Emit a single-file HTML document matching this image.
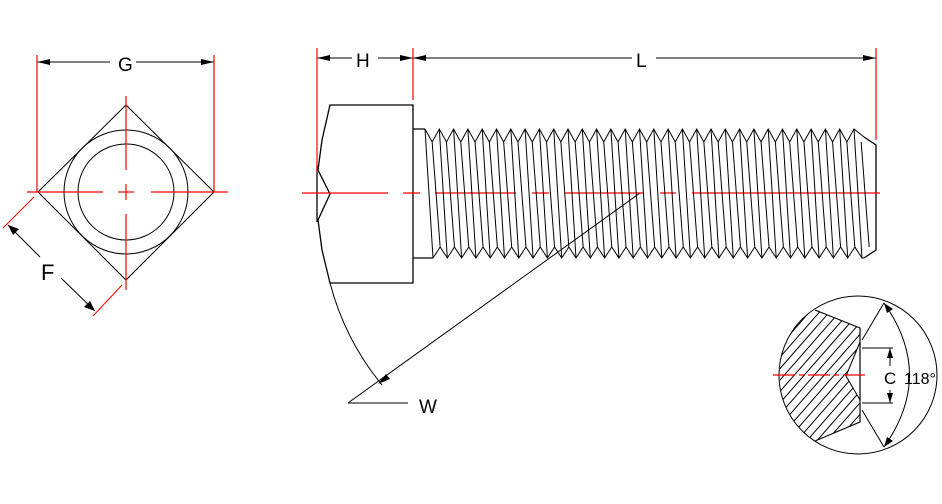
<!DOCTYPE html>
<html><head><meta charset="utf-8"><style>
html,body{margin:0;padding:0;background:#fff}
svg{display:block}
text{font-family:"Liberation Sans",sans-serif;fill:#000}
</style></head><body>
<svg id="s" width="942" height="504" viewBox="0 0 942 504" xmlns="http://www.w3.org/2000/svg">
<defs>
<clipPath id="hc"><path d="M815,310 L860,328 L860,342 L846,376 L860,400 L860,422 L815,441 L780,441 L780,310 Z"/></clipPath>
<clipPath id="cc"><circle cx="858" cy="375" r="79"/></clipPath>
</defs>
<g fill="none" stroke="#000" stroke-width="1">
<path d="M126,105 L214,192 L126,280 L38,192 Z"/>
<circle cx="126" cy="192" r="62"/>
<circle cx="126" cy="192" r="48"/>
<line x1="37" y1="62" x2="110" y2="62"/><line x1="136" y1="62" x2="214" y2="62"/>
<line x1="8" y1="225" x2="40" y2="257"/>
<line x1="61" y1="278" x2="95" y2="311"/>
<path d="M413,105 L330,105 L322,140 L318,170 L330,194 L318,220 L322,250 L330,283 L413,283 Z" stroke-width="1.3"/>
<line x1="317" y1="165" x2="317" y2="222" stroke-width="1.3"/>
<path d="M330,283 Q345,340 382,385" />
<path d="M413,129 L425,129 M413,258 L433,258" stroke-width="1.3"/>
<path d="M864,137 L876,145 L876,250 L864,258" stroke-width="1.3"/>
<line x1="640" y1="193" x2="348" y2="403"/>
<line x1="348" y1="403" x2="408" y2="403"/>
<line x1="317" y1="58" x2="352" y2="58"/><line x1="378" y1="58" x2="413" y2="58"/>
<line x1="413" y1="58" x2="632" y2="58"/><line x1="656" y1="58" x2="876" y2="58"/>
<circle cx="858" cy="375" r="79"/>
<path d="M815,310 L860,328 L860,422 L815,441" stroke-width="1.2"/>
<path d="M860,342 L846,376 L860,400" />
<line x1="862" y1="340" x2="884" y2="303"/>
<line x1="862" y1="410" x2="884" y2="447"/>
<path d="M884,303 Q935,375 884,447"/>
<path d="M862,348 L893,348 M862,403 L893,403 M890,348 L890,366 M890,390 L890,403"/>
<g clip-path="url(#cc)"><g id="hatch" clip-path="url(#hc)"></g></g>
</g>
<g fill="#000">
<polygon points="37,62 50,59 50,65"/><polygon points="214,62 201,59 201,65"/>
<polygon points="317,58 330,55 330,61"/><polygon points="413,58 400,55 400,61"/>
<polygon points="413,58 426,55 426,61"/><polygon points="876,58 863,55 863,61"/>
<polygon points="8,225 19,229 13,235"/><polygon points="95,311 84,307 90,301"/>
<polygon points="378,384 386,374 390,379"/>
<polygon points="890,348 887,358 893,358"/><polygon points="890,403 887,393 893,393"/>
<polygon points="884,303 887,313 893,309"/><polygon points="884,447 887,437 893,441"/>
</g>
<g stroke="#f00" stroke-width="1.2" fill="none">
<line x1="27" y1="192" x2="103" y2="192"/><line x1="118" y1="192" x2="134" y2="192"/><line x1="151" y1="192" x2="228" y2="192"/>
<line x1="126" y1="96" x2="126" y2="170"/><line x1="126" y1="184" x2="126" y2="200"/><line x1="126" y1="214" x2="126" y2="290"/>
<line x1="37" y1="55" x2="37" y2="192"/><line x1="214" y1="55" x2="214" y2="192"/>
<line x1="34" y1="197" x2="3" y2="228" stroke-width="1"/><line x1="122" y1="285" x2="93" y2="316" stroke-width="1"/>
<line x1="317" y1="48" x2="317" y2="172"/><line x1="413" y1="48" x2="413" y2="100"/><line x1="876" y1="48" x2="876" y2="140"/>
<path d="M302,193 H388 M403,193 H420 M435,193 H516 M532,193 H549 M565,193 H644 M660,193 H676 M692,193 H880"/>
<line x1="773" y1="375" x2="866" y2="375" stroke-dasharray="22,4,5,4"/>
</g>
<text x="118" y="71" font-size="19">G</text>
<text x="356" y="67" font-size="19">H</text>
<text x="636" y="67" font-size="19">L</text>
<text x="41" y="280" font-size="22">F</text>
<text x="419" y="413" font-size="19">W</text>
<text x="884" y="384" font-size="17">C</text>
<text x="904" y="384" font-size="16">118°</text>
<g id="thr" fill="none" stroke="#000" stroke-width="1"></g>
</svg>
<script>
var ns="http://www.w3.org/2000/svg";
var t=document.getElementById("thr"),d="";
var p=14.3,x0=425;
d+="M425,129";
for(var i=0;i<32;i++){var x=x0+i*p;if(x+p>868)break;d+=" L"+(x+p/2)+",142 L"+(x+p)+",129";}
d+=" L864,137";
d+=" M433,258";
for(var i=0;i<32;i++){var x=433+i*p;if(x+p>868)break;d+=" L"+(x+p/2)+",247 L"+(x+p)+",258";}
d+=" L864,258";
for(var i=0;i<31;i++){var x=x0+i*p;if(x>858)break;
 d+=" M"+x+",129 L"+(x+8)+",258";
 d+=" M"+(x+p/2)+",142 L"+(x+p/2+8)+",247";}
var e=document.createElementNS(ns,"path");e.setAttribute("d",d);t.appendChild(e);
var h=document.getElementById("hatch"),hd="";
for(var k=-200;k<200;k+=10){hd+="M"+(760+k)+",460 L"+(900+k)+",300 ";}
var e2=document.createElementNS(ns,"path");e2.setAttribute("d",hd);h.appendChild(e2);
</script>
</body></html>
